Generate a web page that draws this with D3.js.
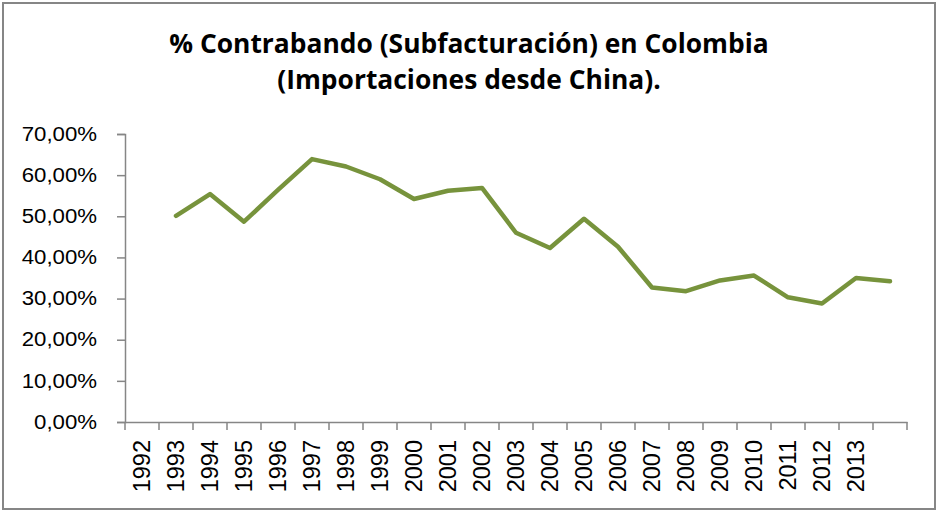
<!DOCTYPE html>
<html>
<head>
<meta charset="utf-8">
<script src="https://cdn.jsdelivr.net/npm/d3@7"></script>
<style>
  body { margin: 0; background: #fff; }
  svg { display: block; }
</style>
</head>
<body>
<svg id="chart" width="938" height="512"></svg>
<script>
// categorias del eje (la ultima sin etiqueta)
var years = ['1992','1993','1994','1995','1996','1997','1998','1999','2000','2001','2002',
             '2003','2004','2005','2006','2007','2008','2009','2010','2011','2012','2013','']
// % contrabando, primera categoria sin dato
var contrabando = [null, 50.1, 55.4, 48.7, 56.4, 63.9, 62.1, 59.0, 54.2, 56.2, 56.9,
                   46.0, 42.3, 49.4, 42.6, 32.7, 31.8, 34.4, 35.6, 30.3, 28.8, 35.0, 34.2]
var yTicks = [0, 10, 20, 30, 40, 50, 60, 70]
var titleLines = ['% Contrabando (Subfacturación) en Colombia', '(Importaciones desde China).']

var svg = d3.select('#chart')
var axisColor = '#868686'
var stretch = 1.14

// borde del grafico
svg.append('rect')
    .attr('x', 3).attr('y', 3).attr('width', 932).attr('height', 506)
    .attr('fill', '#fff').attr('stroke', axisColor).attr('stroke-width', 2)

// titulo
svg.selectAll('text.title').data(titleLines).enter().append('text')
    .attr('class', 'title')
    .attr('x', 469)
    .attr('y', function(d, i) { return 53 + i * 36 })
    .attr('text-anchor', 'middle')
    .attr('font-family', 'Open Sans, sans-serif')
    .attr('font-weight', 'bold')
    .attr('font-size', 26.4)
    .attr('fill', '#000')
    .text(function(d) { return d })

var x = d3.scaleBand().domain(years).range([125, 907])
var y = d3.scaleLinear().domain([0, 70]).range([422, 134])

// eje y
var gy = svg.append('g').attr('transform', 'translate(125,0)')
    .call(d3.axisLeft(y).tickValues(yTicks).tickSize(8)
        .tickFormat(function(d) { return d3.format('.2f')(d).replace('.', ',') + '%' }))
gy.selectAll('path, line').attr('stroke', axisColor).attr('stroke-width', 1.5)
gy.selectAll('text').attr('font-family', 'Liberation Sans, sans-serif')
    .attr('font-size', 19.5).attr('fill', '#000')
    .attr('x', -28 / stretch)
    .attr('transform', 'scale(' + stretch + ',1)')

// eje x
var gx = svg.append('g').attr('transform', 'translate(0,422)')
    .call(d3.axisBottom(x).tickSize(0).tickSizeOuter(0))
gx.select('path').attr('stroke', axisColor).attr('stroke-width', 1.5)
gx.selectAll('.tick line').remove()
// marcas entre categorias
gx.selectAll('line.sep').data(d3.range(years.length + 1)).enter().append('line')
    .attr('class', 'sep')
    .attr('x1', function(i) { return 125 + i * x.step() })
    .attr('x2', function(i) { return 125 + i * x.step() })
    .attr('y1', 0).attr('y2', 8)
    .attr('stroke', axisColor).attr('stroke-width', 1.5)
gx.selectAll('.tick text')
    .attr('font-family', 'Liberation Sans, sans-serif')
    .attr('font-size', 23.5).attr('fill', '#000')
    .attr('text-anchor', 'end')
    .attr('x', -18).attr('y', 0).attr('dy', '0.35em')
    .attr('transform', 'rotate(-90)')

// linea
var line = d3.line()
    .defined(function(d) { return d != null })
    .x(function(d, i) { return x(years[i]) + x.bandwidth() / 2 })
    .y(function(d) { return y(d) })

svg.append('path').datum(contrabando)
    .attr('d', line)
    .attr('fill', 'none')
    .attr('stroke', '#77933C')
    .attr('stroke-width', 4.5)
    .attr('stroke-linejoin', 'round')
    .attr('stroke-linecap', 'round')
</script>
</body>
</html>
